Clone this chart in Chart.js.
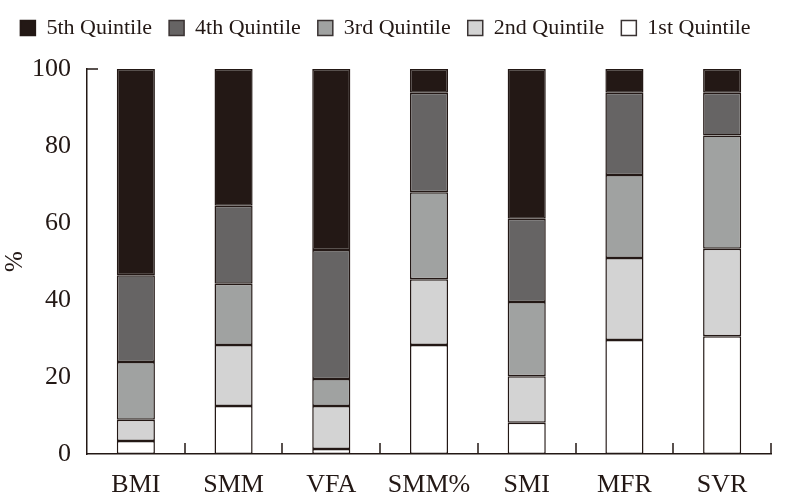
<!DOCTYPE html>
<html>
<head>
<meta charset="utf-8">
<script src="https://cdn.jsdelivr.net/npm/chart.js@4.4.0/dist/chart.umd.min.js"></script>
<style>
  html, body { margin: 0; padding: 0; background: #fff; }
  #wrap { width: 789px; height: 504px; }
</style>
</head>
<body>
<div id="wrap"><canvas id="quintileChart" width="789" height="504"></canvas></div>
<script>
// categories and stacked shares (%), bottom (1st) to top (5th)
const categories = ["BMI", "SMM", "VFA", "SMM%", "SMI", "MFR", "SVR"];
const q1 = [3.4, 12.5, 1.3, 28.3, 8.1, 29.6, 30.6];
const q2 = [5.5, 15.8, 11.2, 17.1, 12.1, 21.3, 22.7];
const q3 = [15.0, 15.9, 7.0, 22.6, 19.3, 21.6, 29.4];
const q4 = [22.5, 20.3, 33.5, 25.8, 21.6, 21.3, 11.1];
const q5 = [53.6, 35.5, 47.0, 6.2, 38.9, 6.2, 6.2];
const yTicks = [0, 20, 40, 60, 80, 100];

const ink = "#231815";
const serif = "'Liberation Serif', 'Times New Roman', serif";

// little inward tick marks like the original figure
const innerTicks = {
    id: "innerTicks",
    afterDatasetsDraw(chart) {
        const ctx = chart.ctx;
        const x = chart.scales.x, y = chart.scales.y;
        const step = x.getPixelForValue(1) - x.getPixelForValue(0);
        ctx.save();
        ctx.strokeStyle = ink;
        ctx.lineWidth = 1.5;
        ctx.beginPath();
        for (let i = 0; i < categories.length; i++) {
            const px = Math.round(x.getPixelForValue(i) + step / 2);
            ctx.moveTo(px, y.bottom);
            ctx.lineTo(px, y.bottom - 11);
        }
        const top = y.getPixelForValue(100);
        ctx.moveTo(x.left, top);
        ctx.lineTo(x.left + 11, top);
        ctx.stroke();
        ctx.restore();
    }
};

// push the plot down a bit below the legend
const legendGap = {
    id: "legendGap",
    beforeInit(chart) {
        const fit = chart.legend.fit;
        chart.legend.fit = function () {
            fit.call(this);
            this.height += 20;
        };
    }
};

const ds = (label, data, color) => ({
    label, data,
    backgroundColor: color,
    borderColor: ink,
    borderWidth: 1.5,
    borderSkipped: false,
    barPercentage: 0.39,
    categoryPercentage: 1.0,
});

new Chart(document.getElementById("quintileChart"), {
    type: "bar",
    data: {
        labels: categories,
        datasets: [
            ds("1st Quintile", q1, "#ffffff"),
            ds("2nd Quintile", q2, "#d3d3d3"),
            ds("3rd Quintile", q3, "#a0a2a1"),
            ds("4th Quintile", q4, "#666464"),
            ds("5th Quintile", q5, "#231815"),
        ],
    },
    options: {
        responsive: false,
        animation: false,
        layout: { padding: { left: 0, right: 18, top: 0, bottom: 0 } },
        plugins: {
            tooltip: { enabled: false },
            legend: {
                position: "top",
                reverse: true,
                labels: {
                    color: ink,
                    font: { family: serif, size: 22 },
                    boxWidth: 15,
                    boxHeight: 15,
                    padding: 17,
                    generateLabels(chart) {
                        return chart.data.datasets.map((d, i) => ({
                            text: d.label,
                            fillStyle: d.backgroundColor,
                            strokeStyle: i === 4 ? ink : "#3a3333",
                            lineWidth: 1.5,
                            datasetIndex: i,
                            fontColor: ink,
                        }));
                    },
                },
            },
        },
        scales: {
            x: {
                stacked: true,
                grid: { display: false },
                border: { color: ink, width: 1.5 },
                ticks: { color: ink, font: { family: serif, size: 26 }, padding: 8 },
                afterFit(scale) { scale.height = 50; },
            },
            y: {
                stacked: true,
                min: 0,
                max: 100,
                grid: { display: false },
                border: { color: ink, width: 1.5 },
                afterBuildTicks(scale) { scale.ticks = yTicks.map(v => ({ value: v })); },
                ticks: { color: ink, font: { family: serif, size: 26 }, padding: 8 },
                title: { display: true, text: "%", color: ink, font: { family: serif, size: 25 }, padding: 0 },
                afterFit(scale) { scale.width = 87; },
            },
        },
    },
    plugins: [innerTicks, legendGap],
});
</script>
</body>
</html>
